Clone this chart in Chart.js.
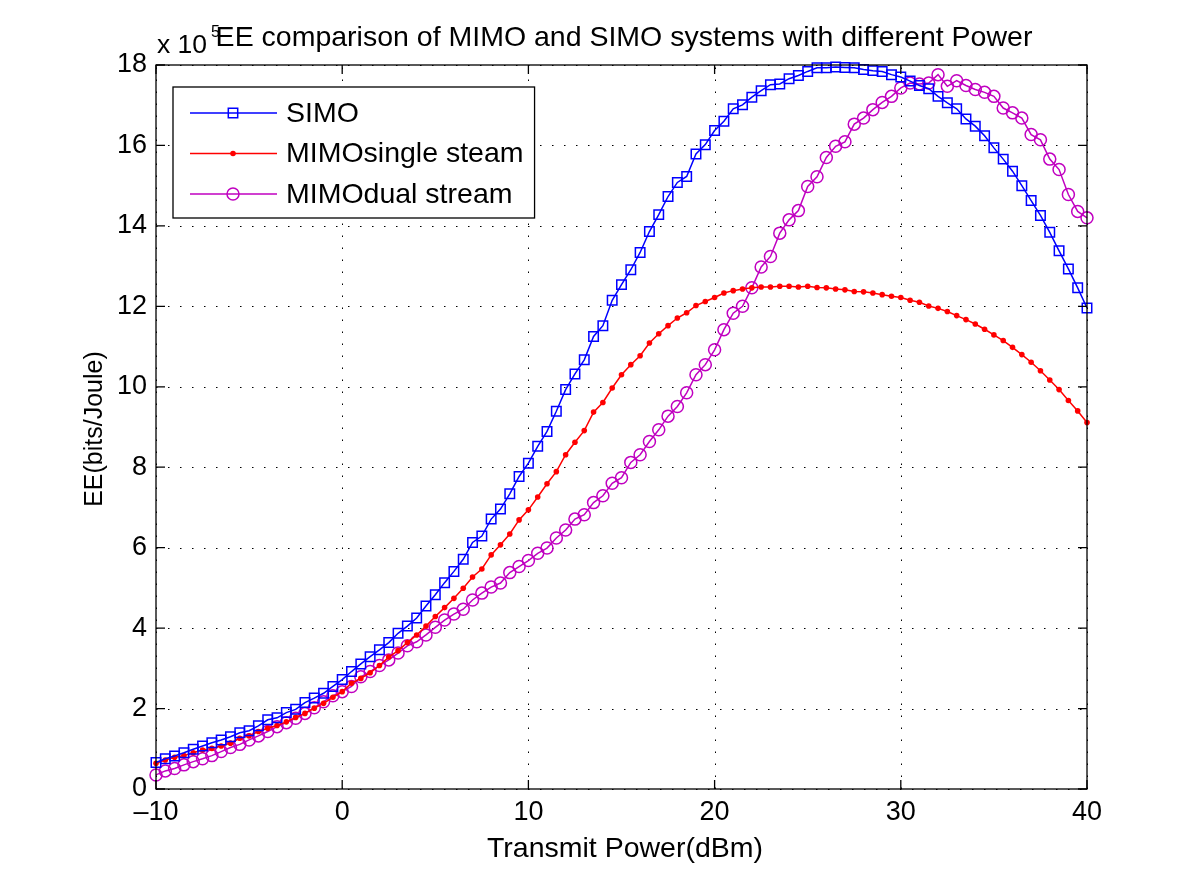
<!DOCTYPE html>
<html>
<head>
<meta charset="utf-8">
<title>EE comparison of MIMO and SIMO systems</title>
<script src="https://cdn.jsdelivr.net/npm/chart.js@4.4.1/dist/chart.umd.min.js"></script>
<style>
  html, body { margin: 0; padding: 0; background: #fff; }
  canvas { display: block; }
</style>
</head>
<body>
<canvas id="eeChart" width="1200" height="889"></canvas>
<script>
// transmit power (dBm), one point every 0.5 dBm
const power = [
  -10, -9.5, -9, -8.5, -8, -7.5, -7, -6.5, -6, -5.5, -5, -4.5, -4, -3.5, -3, -2.5, -2, -1.5, -1, -0.5,
  0, 0.5, 1, 1.5, 2, 2.5, 3, 3.5, 4, 4.5, 5, 5.5, 6, 6.5, 7, 7.5, 8, 8.5, 9, 9.5,
  10, 10.5, 11, 11.5, 12, 12.5, 13, 13.5, 14, 14.5, 15, 15.5, 16, 16.5, 17, 17.5, 18, 18.5, 19, 19.5,
  20, 20.5, 21, 21.5, 22, 22.5, 23, 23.5, 24, 24.5, 25, 25.5, 26, 26.5, 27, 27.5, 28, 28.5, 29, 29.5,
  30, 30.5, 31, 31.5, 32, 32.5, 33, 33.5, 34, 34.5, 35, 35.5, 36, 36.5, 37, 37.5, 38, 38.5, 39, 39.5,
  40
];

// EE values, x 10^5 bits/Joule
const simo = [
  0.66, 0.75, 0.82, 0.90, 0.99, 1.07, 1.15, 1.22, 1.30, 1.40, 1.45, 1.57, 1.72, 1.77, 1.90, 1.98, 2.15, 2.26, 2.38, 2.55,
  2.72, 2.92, 3.11, 3.29, 3.46, 3.64, 3.87, 4.05, 4.25, 4.55, 4.83, 5.13, 5.41, 5.71, 6.13, 6.29, 6.71, 6.96, 7.34, 7.77,
  8.10, 8.52, 8.89, 9.39, 9.93, 10.32, 10.67, 11.25, 11.52, 12.15, 12.54, 12.91, 13.34, 13.86, 14.28, 14.73, 15.08, 15.23, 15.79, 16.02,
  16.37, 16.60, 16.91, 17.01, 17.20, 17.36, 17.51, 17.53, 17.66, 17.74, 17.84, 17.93, 17.93, 17.95, 17.94, 17.93, 17.89, 17.86, 17.84, 17.76,
  17.70, 17.60, 17.49, 17.41, 17.22, 17.06, 16.91, 16.66, 16.48, 16.24, 15.94, 15.66, 15.36, 15.00, 14.63, 14.26, 13.84, 13.38, 12.93, 12.46,
  11.96
];
const mimoSingle = [
  0.64, 0.72, 0.79, 0.83, 0.90, 0.97, 1.01, 1.07, 1.14, 1.26, 1.32, 1.43, 1.51, 1.58, 1.67, 1.78, 1.88, 2.01, 2.13, 2.28,
  2.42, 2.63, 2.75, 2.89, 3.07, 3.28, 3.44, 3.64, 3.83, 4.05, 4.29, 4.51, 4.74, 4.99, 5.27, 5.47, 5.82, 6.07, 6.34, 6.69,
  6.94, 7.26, 7.59, 7.89, 8.31, 8.62, 8.91, 9.37, 9.61, 9.97, 10.30, 10.55, 10.77, 11.09, 11.32, 11.52, 11.71, 11.84, 12.02, 12.12,
  12.22, 12.33, 12.39, 12.43, 12.46, 12.48, 12.48, 12.50, 12.50, 12.48, 12.50, 12.47, 12.46, 12.43, 12.41, 12.37, 12.36, 12.33, 12.29, 12.25,
  12.22, 12.15, 12.10, 12.01, 11.95, 11.87, 11.77, 11.67, 11.56, 11.43, 11.29, 11.15, 10.98, 10.80, 10.61, 10.40, 10.17, 9.93, 9.66, 9.40,
  9.11
];
const mimoDual = [
  0.35, 0.45, 0.51, 0.60, 0.68, 0.75, 0.83, 0.93, 1.03, 1.11, 1.22, 1.32, 1.43, 1.55, 1.65, 1.76, 1.88, 2.02, 2.17, 2.32,
  2.42, 2.55, 2.79, 2.92, 3.07, 3.21, 3.38, 3.56, 3.66, 3.83, 4.02, 4.20, 4.35, 4.47, 4.70, 4.87, 5.02, 5.12, 5.38, 5.53,
  5.68, 5.86, 5.99, 6.24, 6.44, 6.71, 6.82, 7.12, 7.29, 7.60, 7.74, 8.12, 8.31, 8.64, 8.93, 9.27, 9.51, 9.85, 10.30, 10.55,
  10.92, 11.42, 11.83, 12.00, 12.46, 12.98, 13.24, 13.82, 14.15, 14.38, 14.98, 15.22, 15.70, 15.98, 16.09, 16.53, 16.68, 16.89, 17.07, 17.22,
  17.43, 17.55, 17.53, 17.55, 17.76, 17.47, 17.61, 17.49, 17.39, 17.32, 17.22, 16.93, 16.81, 16.68, 16.27, 16.14, 15.66, 15.40, 14.78, 14.36,
  14.20
];

const xTicks = [-10, 0, 10, 20, 30, 40];
const yTicks = [0, 2, 4, 6, 8, 10, 12, 14, 16, 18];
const seriesNames = ['SIMO', 'MIMOsingle steam', 'MIMOdual stream'];

const FONT = '"Liberation Sans", Arial, Helvetica, sans-serif';
const BLUE = '#0000ff', RED = '#ff0000', MAGENTA = '#c000c0';

function toPoints(ys) {
  return power.map((p, i) => ({ x: p, y: ys[i] }));
}

// draws a legend marker in the same style as the dataset points
function drawMarker(ctx, style, x, y, color) {
  ctx.save();
  ctx.strokeStyle = color;
  ctx.fillStyle = color;
  ctx.lineWidth = 1.5;
  ctx.beginPath();
  if (style === 'rect') {
    ctx.rect(x - 4.7, y - 4.7, 9.4, 9.4);
    ctx.stroke();
  } else if (style === 'dot') {
    ctx.arc(x, y, 2.8, 0, Math.PI * 2);
    ctx.fill();
  } else {
    ctx.arc(x, y, 6, 0, Math.PI * 2);
    ctx.stroke();
  }
  ctx.restore();
}

const matlabFrame = {
  id: 'matlabFrame',
  beforeDatasetsDraw(chart) {
    const { ctx, chartArea: a, scales } = chart;
    ctx.save();
    ctx.strokeStyle = '#000';
    ctx.lineWidth = 1;
    ctx.setLineDash([1.5, 10.5]);
    xTicks.forEach(v => {
      const px = Math.round(scales.x.getPixelForValue(v)) + 0.5;
      ctx.beginPath(); ctx.moveTo(px, a.bottom); ctx.lineTo(px, a.top); ctx.stroke();
    });
    yTicks.forEach(v => {
      const py = Math.round(scales.y.getPixelForValue(v)) + 0.5;
      ctx.beginPath(); ctx.moveTo(a.left, py); ctx.lineTo(a.right, py); ctx.stroke();
    });
    ctx.restore();
  },
  afterDatasetsDraw(chart) {
    const { ctx, chartArea: a, scales } = chart;
    ctx.save();
    // axes box + inward ticks
    ctx.strokeStyle = '#000';
    ctx.lineWidth = 1.3;
    ctx.strokeRect(a.left, a.top, a.right - a.left, a.bottom - a.top);
    const tl = 9;
    ctx.beginPath();
    xTicks.forEach(v => {
      const px = scales.x.getPixelForValue(v);
      ctx.moveTo(px, a.bottom); ctx.lineTo(px, a.bottom - tl);
      ctx.moveTo(px, a.top); ctx.lineTo(px, a.top + tl);
    });
    yTicks.forEach(v => {
      const py = scales.y.getPixelForValue(v);
      ctx.moveTo(a.left, py); ctx.lineTo(a.left + tl, py);
      ctx.moveTo(a.right, py); ctx.lineTo(a.right - tl, py);
    });
    ctx.stroke();

    // legend box, top left inside the axes
    const lx = a.left + 17, ly = a.top + 22;
    ctx.font = '28.5px ' + FONT;
    const tw = Math.max(...seriesNames.map(n => ctx.measureText(n).width));
    const lw = 124 + tw, lh = 131;
    ctx.fillStyle = '#fff';
    ctx.fillRect(lx, ly, lw, lh);
    ctx.lineWidth = 1.3;
    ctx.strokeRect(lx, ly, lw, lh);
    const styles = ['rect', 'dot', 'circle'];
    const colors = [BLUE, RED, MAGENTA];
    seriesNames.forEach((name, i) => {
      const y = ly + 26 + i * 40.5;
      ctx.strokeStyle = colors[i];
      ctx.lineWidth = 1.5;
      ctx.beginPath(); ctx.moveTo(lx + 17, y); ctx.lineTo(lx + 104, y); ctx.stroke();
      drawMarker(ctx, styles[i], lx + 60, y, colors[i]);
      ctx.fillStyle = '#000';
      ctx.textAlign = 'left';
      ctx.textBaseline = 'middle';
      ctx.fillText(name, lx + 113, y + 1);
    });
    ctx.restore();
  },
  afterDraw(chart) {
    const { ctx, chartArea: a } = chart;
    ctx.save();
    ctx.fillStyle = '#000';
    // exponent label (superscript partly hidden under the title, as in the original)
    ctx.font = '26.5px ' + FONT;
    ctx.textAlign = 'left';
    ctx.textBaseline = 'alphabetic';
    ctx.fillText('x 10', a.left + 1, 53);
    ctx.font = '16px ' + FONT;
    ctx.fillText('5', a.left + 55, 37);
    // title
    ctx.font = '28.5px ' + FONT;
    ctx.textAlign = 'center';
    ctx.fillText('EE comparison of MIMO and SIMO systems with different Power', 624, 46);
    // axis titles
    ctx.textBaseline = 'middle';
    ctx.fillText('Transmit Power(dBm)', 625, 849);
    ctx.font = '25px ' + FONT;
    ctx.translate(95, 429);
    ctx.rotate(-Math.PI / 2);
    ctx.fillText('EE(bits/Joule)', 0, 0);
    ctx.restore();
  }
};

new Chart(document.getElementById('eeChart'), {
  type: 'line',
  data: {
    datasets: [
      {
        label: seriesNames[0], data: toPoints(simo),
        borderColor: BLUE, backgroundColor: 'rgba(0,0,0,0)', borderWidth: 1.5,
        pointStyle: 'rect', pointRadius: 6.7, pointBorderWidth: 1.5,
        pointBorderColor: BLUE, pointBackgroundColor: 'rgba(0,0,0,0)', clip: 12
      },
      {
        label: seriesNames[1], data: toPoints(mimoSingle),
        borderColor: RED, backgroundColor: RED, borderWidth: 1.5,
        pointStyle: 'circle', pointRadius: 2.8, pointBorderWidth: 0,
        pointBackgroundColor: RED, clip: 12
      },
      {
        label: seriesNames[2], data: toPoints(mimoDual),
        borderColor: MAGENTA, backgroundColor: 'rgba(0,0,0,0)', borderWidth: 1.5,
        pointStyle: 'circle', pointRadius: 6, pointBorderWidth: 1.5,
        pointBorderColor: MAGENTA, pointBackgroundColor: 'rgba(0,0,0,0)', clip: 12
      }
    ]
  },
  options: {
    responsive: false,
    devicePixelRatio: 1,
    animation: false,
    layout: { padding: { left: 0, top: 65, right: 113, bottom: 0 } },
    plugins: { legend: { display: false }, title: { display: false }, tooltip: { enabled: false } },
    elements: { line: { tension: 0 } },
    scales: {
      x: {
        type: 'linear', min: -10, max: 40,
        afterFit(scale) { scale.height = 100; },
        afterBuildTicks(scale) { scale.ticks = xTicks.map(v => ({ value: v })); },
        grid: { display: false, drawTicks: false }, border: { display: false },
        ticks: {
          color: '#000', padding: 7, maxRotation: 0,
          font: { family: FONT, size: 27 },
          callback: v => String(v).replace('-', '\u2013')
        }
      },
      y: {
        type: 'linear', min: 0, max: 18,
        afterFit(scale) { scale.width = 156; },
        afterBuildTicks(scale) { scale.ticks = yTicks.map(v => ({ value: v })); },
        grid: { display: false, drawTicks: false }, border: { display: false },
        ticks: { color: '#000', padding: 9, font: { family: FONT, size: 27 } }
      }
    }
  },
  plugins: [matlabFrame]
});
</script>
</body>
</html>
